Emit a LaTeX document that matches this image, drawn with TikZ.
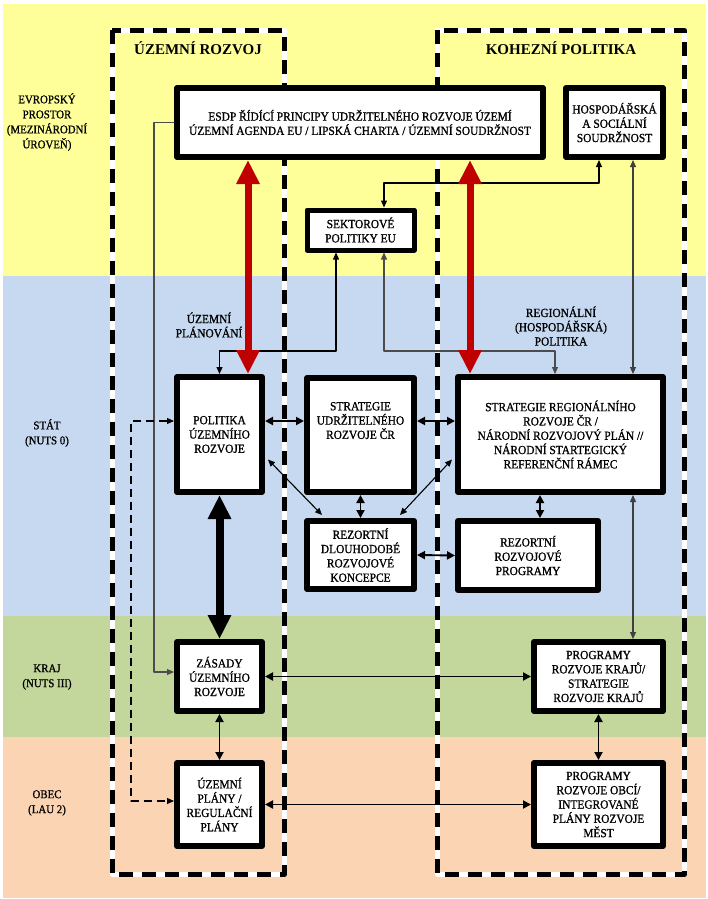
\documentclass[tikz,border=0pt]{standalone}
\usepackage{fontspec}
\setmainfont{Liberation Serif}
\newfontfamily\boxface{Liberation Serif}[FakeStretch=0.92, FakeBold=1]
\usetikzlibrary{arrows.meta,calc,positioning}
\definecolor{bandyellow}{RGB}{255,255,153}
\definecolor{bandblue}{RGB}{198,217,241}
\definecolor{bandgreen}{RGB}{195,214,155}
\definecolor{bandpeach}{RGB}{251,212,180}
\definecolor{arrowred}{RGB}{192,0,0}
\newcommand\boxfont{\boxface\fontsize{12.4}{14.3}\selectfont}
\newcommand\levelfont{\boxface\fontsize{11.8}{15}\selectfont}

\begin{document}
\begin{tikzpicture}[line join=round, line cap=round, x=1pt, y=-1pt,
	box/.style={draw, fill=white, line width=6pt, align=center, inner sep=2pt, font=\boxfont},
	level/.style={align=center, font=\levelfont},
	title/.style={font=\fontsize{15}{18}\selectfont\bfseries},
	frame/.style={line cap=butt, line width=5pt, dash pattern=on 14pt off 9pt, preaction={draw=white, line width=5pt, dash pattern=}},
	conn/.style={line width=1.1pt, >={Triangle[length=7pt,width=6pt]}},
	link/.style={line width=1.9pt, >={Triangle[length=8pt,width=8pt]}},
	dashlink/.style={conn, line cap=butt, dash pattern=on 8pt off 5pt},
	bigred/.style={draw=arrowred, line width=7pt, >={Triangle[length=24pt,width=22pt]}, <->},
	bigblack/.style={line width=8pt, >={Triangle[length=24pt,width=22pt]}, <->}]
		\useasboundingbox (0,0) rectangle (708,899);
		\fill[white] (0,0) rectangle (708,899);
		\fill[bandyellow] (3,4) rectangle (706,276);
		\fill[bandblue] (3,276) rectangle (706,616);
		\fill[bandgreen] (3,616) rectangle (706,737);
		\fill[bandpeach] (3,737) rectangle (706,898);
		\coordinate (FL1) at (112,30.5);
		\coordinate (FL2) at (284.5,874.5);
		\coordinate (FR1) at (437.5,30.5);
		\coordinate (FR2) at (684.5,874.5);
		\draw[frame] (FL1) rectangle (FL2);
		\draw[frame] (FR1) rectangle (FR2);
		\node[title] (tUR) at (198,48) {ÚZEMNÍ ROZVOJ};
		\node[title] (tKP) at (561,48) {KOHEZNÍ POLITIKA};
		\node[level] (lEU) at (47,122) {EVROPSKÝ\\PROSTOR\\(MEZINÁRODNÍ\\ÚROVEŇ)};
		\node[level] (lST) at (47,433) {STÁT\\(NUTS 0)};
		\node[level] (lKR) at (47,677) {KRAJ\\(NUTS III)};
		\node[level] (lOB) at (47,803) {OBEC\\(LAU 2)};
		\node[level, font=\boxfont] (lUP) at (209,325) {ÚZEMNÍ\\PLÁNOVÁNÍ};
		\node[level, font=\boxfont] (lRP) at (561,326) {REGIONÁLNÍ\\(HOSPODÁŘSKÁ)\\POLITIKA};
		\node[box, minimum width=366pt, minimum height=69pt] (esdp) at (360,122.5) {ESDP ŘÍDÍCÍ PRINCIPY UDRŽITELNÉHO ROZVOJE ÚZEMÍ\\ÚZEMNÍ AGENDA EU / LIPSKÁ CHARTA / ÚZEMNÍ SOUDRŽNOST};
		\node[box, minimum width=97pt, minimum height=69pt] (hosp) at (614.5,122.5) {HOSPODÁŘSKÁ\\A SOCIÁLNÍ\\SOUDRŽNOST};
		\node[box, minimum width=107pt, minimum height=40pt, line width=5pt] (sekt) at (360.5,230) {SEKTOROVÉ\\POLITIKY EU};
		\node[box, minimum width=85pt, minimum height=115pt] (pol) at (219.5,434.5) {POLITIKA\\ÚZEMNÍHO\\ROZVOJE};
		\node[box, minimum width=107pt, minimum height=114pt, text depth=29pt] (sur) at (360.5,435) {STRATEGIE\\UDRŽITELNÉHO\\ROZVOJE ČR};
		\node[box, minimum width=205pt, minimum height=115pt] (srr) at (560.5,434.5) {STRATEGIE REGIONÁLNÍHO\\ROZVOJE ČR /\\NÁRODNÍ ROZVOJOVÝ PLÁN //\\NÁRODNÍ STARTEGICKÝ\\REFERENČNÍ RÁMEC};
		\node[box, minimum width=107pt, minimum height=68pt] (rdk) at (360.5,555) {REZORTNÍ\\DLOUHODOBÉ\\ROZVOJOVÉ\\KONCEPCE};
		\node[box, minimum width=140pt, minimum height=69pt] (rrp) at (528,555.5) {REZORTNÍ\\ROZVOJOVÉ\\PROGRAMY};
		\node[box, minimum width=85pt, minimum height=69pt] (zur) at (219.5,676.5) {ZÁSADY\\ÚZEMNÍHO\\ROZVOJE};
		\node[box, minimum width=85pt, minimum height=83pt] (up) at (219.5,804.5) {ÚZEMNÍ\\PLÁNY /\\REGULAČNÍ\\PLÁNY};
		\node[box, minimum width=129pt, minimum height=69pt] (prk) at (598.5,676.5) {PROGRAMY\\ROZVOJE KRAJŮ/\\STRATEGIE\\ROZVOJE KRAJŮ};
		\node[box, minimum width=129pt, minimum height=83pt] (pro) at (598.5,804.5) {PROGRAMY\\ROZVOJE OBCÍ/\\INTEGROVANÉ\\PLÁNY ROZVOJE\\MĚST};
		\coordinate (k1) at (154,672);
		\coordinate (dA) at (131,421);
		\coordinate (dB) at (131,801);
		\coordinate (h1) at (599,183);
		\coordinate (s1) at (336,351);
		\coordinate (s2) at (384,351);
		\coordinate (s3) at (555,351);
		\coordinate (v1) at (633,0);
		\coordinate (v2) at (540,0);
		\coordinate (ha) at (0,421);
		\coordinate (redL) at (248,0);
		\coordinate (redR) at (470,0);
		\draw[conn, draw=black!70, ->] (esdp.west) -| (k1) -- (zur.west |- k1);
		\draw[dashlink, <->] (pol.west |- dA) -- (dA) -- (dB) -- (up.west |- dB);
		\draw[conn, <->] (hosp.south -| h1) -- (h1) -| (sekt.north -| s2);
		\draw[conn, <->] (sekt.south -| s1) -- (s1) -| (pol.north);
		\draw[conn, draw=black!70, <->] (sekt.south -| s2) -- (s2) -- (s3) -- (srr.north -| s3);
		\draw[conn, draw=black!75, <->] (hosp.south -| v1) -- (srr.north -| v1);
		\draw[conn, draw=black!75, <->] (srr.south -| v1) -- (prk.north -| v1);
		\draw[conn, <->] ($(pol.east)+(3,25)$) -- ($(rdk.north west)+(18,-3)$);
		\draw[conn, <->] ($(srr.west)+(-3,25)$) -- ($(rdk.north east)+(-17,-3)$);
		\draw[link, <->] (pol.east |- ha) -- (sur.west |- ha);
		\draw[link, <->] (sur.east |- ha) -- (srr.west |- ha);
		\draw[link, <->] (sur.south) -- (rdk.north);
		\draw[link, <->] (srr.south -| v2) -- (rrp.north -| v2);
		\draw[link, <->] (rdk.east) -- (rrp.west);
		\draw[link, <->] (zur.east) -- (prk.west);
		\draw[link, <->] (up.east) -- (pro.west);
		\draw[link, <->] (zur.south) -- (up.north);
		\draw[link, <->] (prk.south) -- (pro.north);
		\draw[bigred] (esdp.south -| redL) -- (pol.north -| redL);
		\draw[bigred] (esdp.south -| redR) -- (srr.north -| redR);
		\draw[bigblack] (pol.south) -- (zur.north);
\end{tikzpicture}
\end{document}
